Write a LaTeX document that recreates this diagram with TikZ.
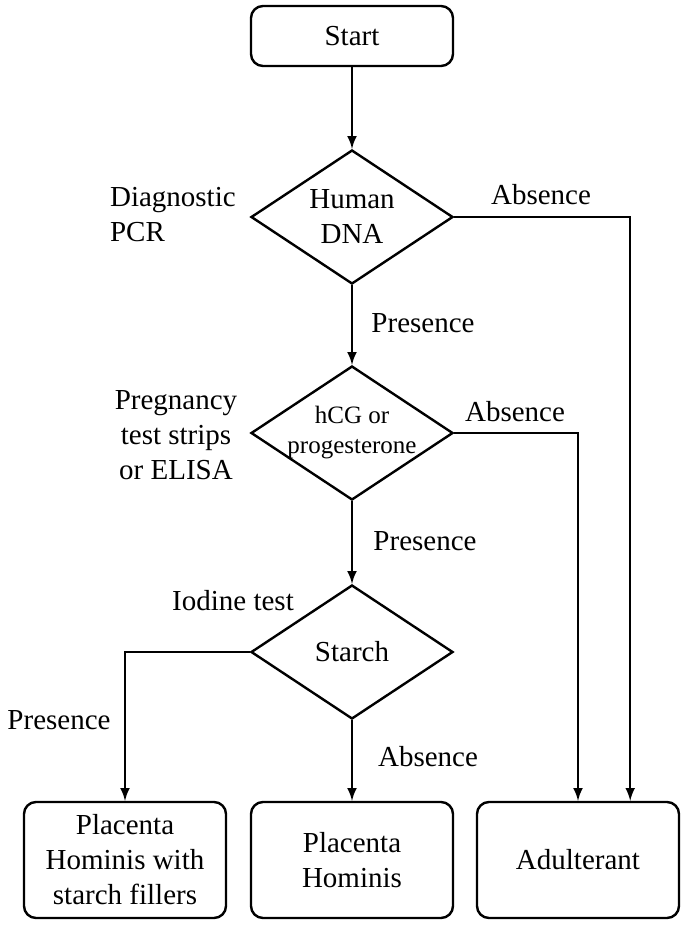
\documentclass[tikz,border=0pt]{standalone}
\usepackage{fontspec}
\setmainfont{Liberation Serif}
\usepackage{tikz}
\usetikzlibrary{arrows,shapes}
\tikzstyle{terminal}=[draw,line width=1.2pt,rounded corners=6pt,minimum width=101pt,align=center]
\tikzstyle{decision}=[draw,line width=1.2pt,diamond,aspect=1.5,minimum width=101pt,minimum height=67pt,inner sep=-2pt,align=center]
\tikzstyle{edge} = [draw,line width=1.2pt,-latex]
\tikzstyle{note} = [align=center]

\begin{document}
\begin{tikzpicture}[x=0.5pt,y=-0.5pt,font=\fontsize{14.5}{17.5}\selectfont]
    \useasboundingbox (0,0) rectangle (685,933);
    % Flow chart for placenta hominis test
    % First the boxes and the tests
    \node[terminal,minimum height=30pt] (start) at (352,36) {Start};
    \node[decision] (dna) at (352,217) {Human\\DNA};
    \node[decision,font=\fontsize{12.5}{15}\selectfont] (hcg) at (352,433) {hCG or\\progesterone};
    \node[decision] (starch) at (352,652) {Starch};
    \foreach \pos/\name/\text in {{(125,860)/filler/{Placenta\\Hominis with\\starch fillers}},
        {(352,860)/hominis/{Placenta\\Hominis}}, {(578,860)/adult/{Adulterant}}}
        \node[terminal,minimum height=58pt] (\name) at \pos {\text};
    % Connect them with edges
    \foreach \source/ \dest in {start/dna, dna/hcg, hcg/starch, starch/hominis}
        \path[edge] (\source) -- (\dest);
    \path[edge] (dna.east) -| ([xshift=-25pt]adult.north east);
    \path[edge] (hcg.east) -| (adult.north);
    \path[edge] (starch.west) -| (filler.north);
    % Labels
    \node[anchor=west,align=left] (pcr) at (103,215) {Diagnostic\\PCR};
    \node[note] (preg) at (176,435) {Pregnancy\\test strips\\or ELISA};
    \node[note] (iodine) at (233,601) {Iodine test};
    \foreach \pos/\name/\text in {{(541,195)/abs1/Absence}, {(423,323)/pres1/Presence},
        {(515,412)/abs2/Absence}, {(425,541)/pres2/Presence},
        {(59,720)/pres3/Presence}, {(428,757)/abs3/Absence}}
        \node[note] (\name) at \pos {\text};
\end{tikzpicture}
\end{document}
